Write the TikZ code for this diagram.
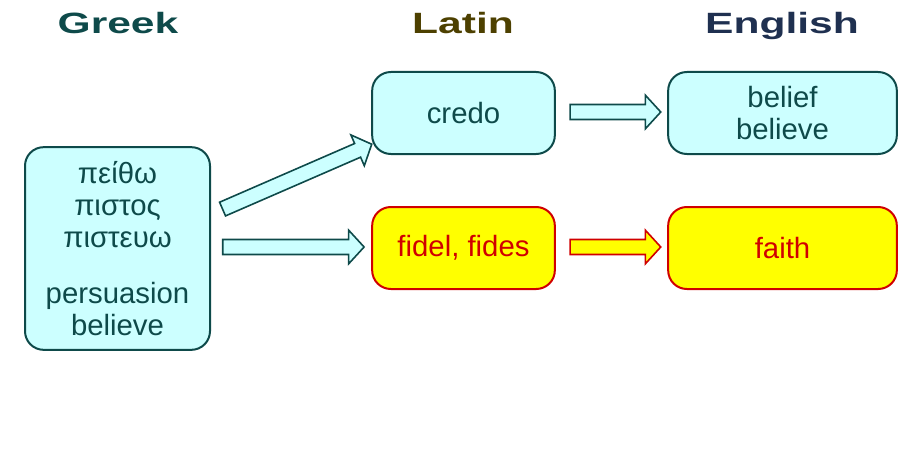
\documentclass[tikz,border=0pt]{standalone}
\usepackage{fontspec}
\setmainfont{Liberation Sans}
\usetikzlibrary{shapes.arrows}
\definecolor{cy}{HTML}{CCFFFF}
\definecolor{tl}{HTML}{0E4A4A}
\definecolor{rd}{HTML}{D00000}
\definecolor{yl}{HTML}{FFFF00}
\definecolor{ol}{HTML}{4D4000}
\definecolor{nv}{HTML}{1F3050}
\begin{document}
\begin{tikzpicture}[x=0.75pt,y=-0.75pt,
 box/.style={draw=tl,fill=cy,line width=1.5pt,rounded corners=14pt,text=tl,align=center,font=\fontsize{22}{24}\selectfont,inner sep=0pt},
 ybox/.style={box,draw=rd,fill=yl,text=rd},
 hd/.style={font=\fontsize{22}{26}\selectfont\bfseries,anchor=base,xscale=1.45},
 arr/.style={single arrow,draw=tl,fill=cy,line width=1.2pt,minimum height=#1,single arrow head extend=7pt,inner xsep=0pt,inner ysep=5pt,single arrow tip angle=95},
 yarr/.style={arr=#1,draw=rd,fill=yl}]
\useasboundingbox (0,0) rectangle (920,460);
\node[hd,text=tl] (hg) at (118,34) {Greek};
\node[hd,text=ol] (hl) at (463,34) {Latin};
\node[hd,text=nv] (he) at (782,34) {English};
\node[box,minimum width=138.75pt,minimum height=152pt] (g) at (117.5,248.5) {πείθω\\πιστος\\πιστευω\\[18pt]persuasion\\believe};
\node[box,minimum width=137pt,minimum height=61.5pt] (c) at (463.5,113) {credo};
\node[box,minimum width=171.5pt,minimum height=61.5pt] (b) at (782.5,113) {belief\\believe};
\node[ybox,minimum width=137pt,minimum height=61.5pt] (f) at (463.5,248) {fidel, fides};
\node[ybox,minimum width=171.5pt,minimum height=61.5pt] (fa) at (782.5,248) {faith};
\node[arr=122pt,rotate=23.5] (a1) at (294,178) {};
\node[arr=106pt] (a2) at (290,247) {};
\node[arr=68pt] (a3) at (612,112) {};
\node[yarr=68pt] (a4) at (612,247) {};
\end{tikzpicture}
\end{document}
